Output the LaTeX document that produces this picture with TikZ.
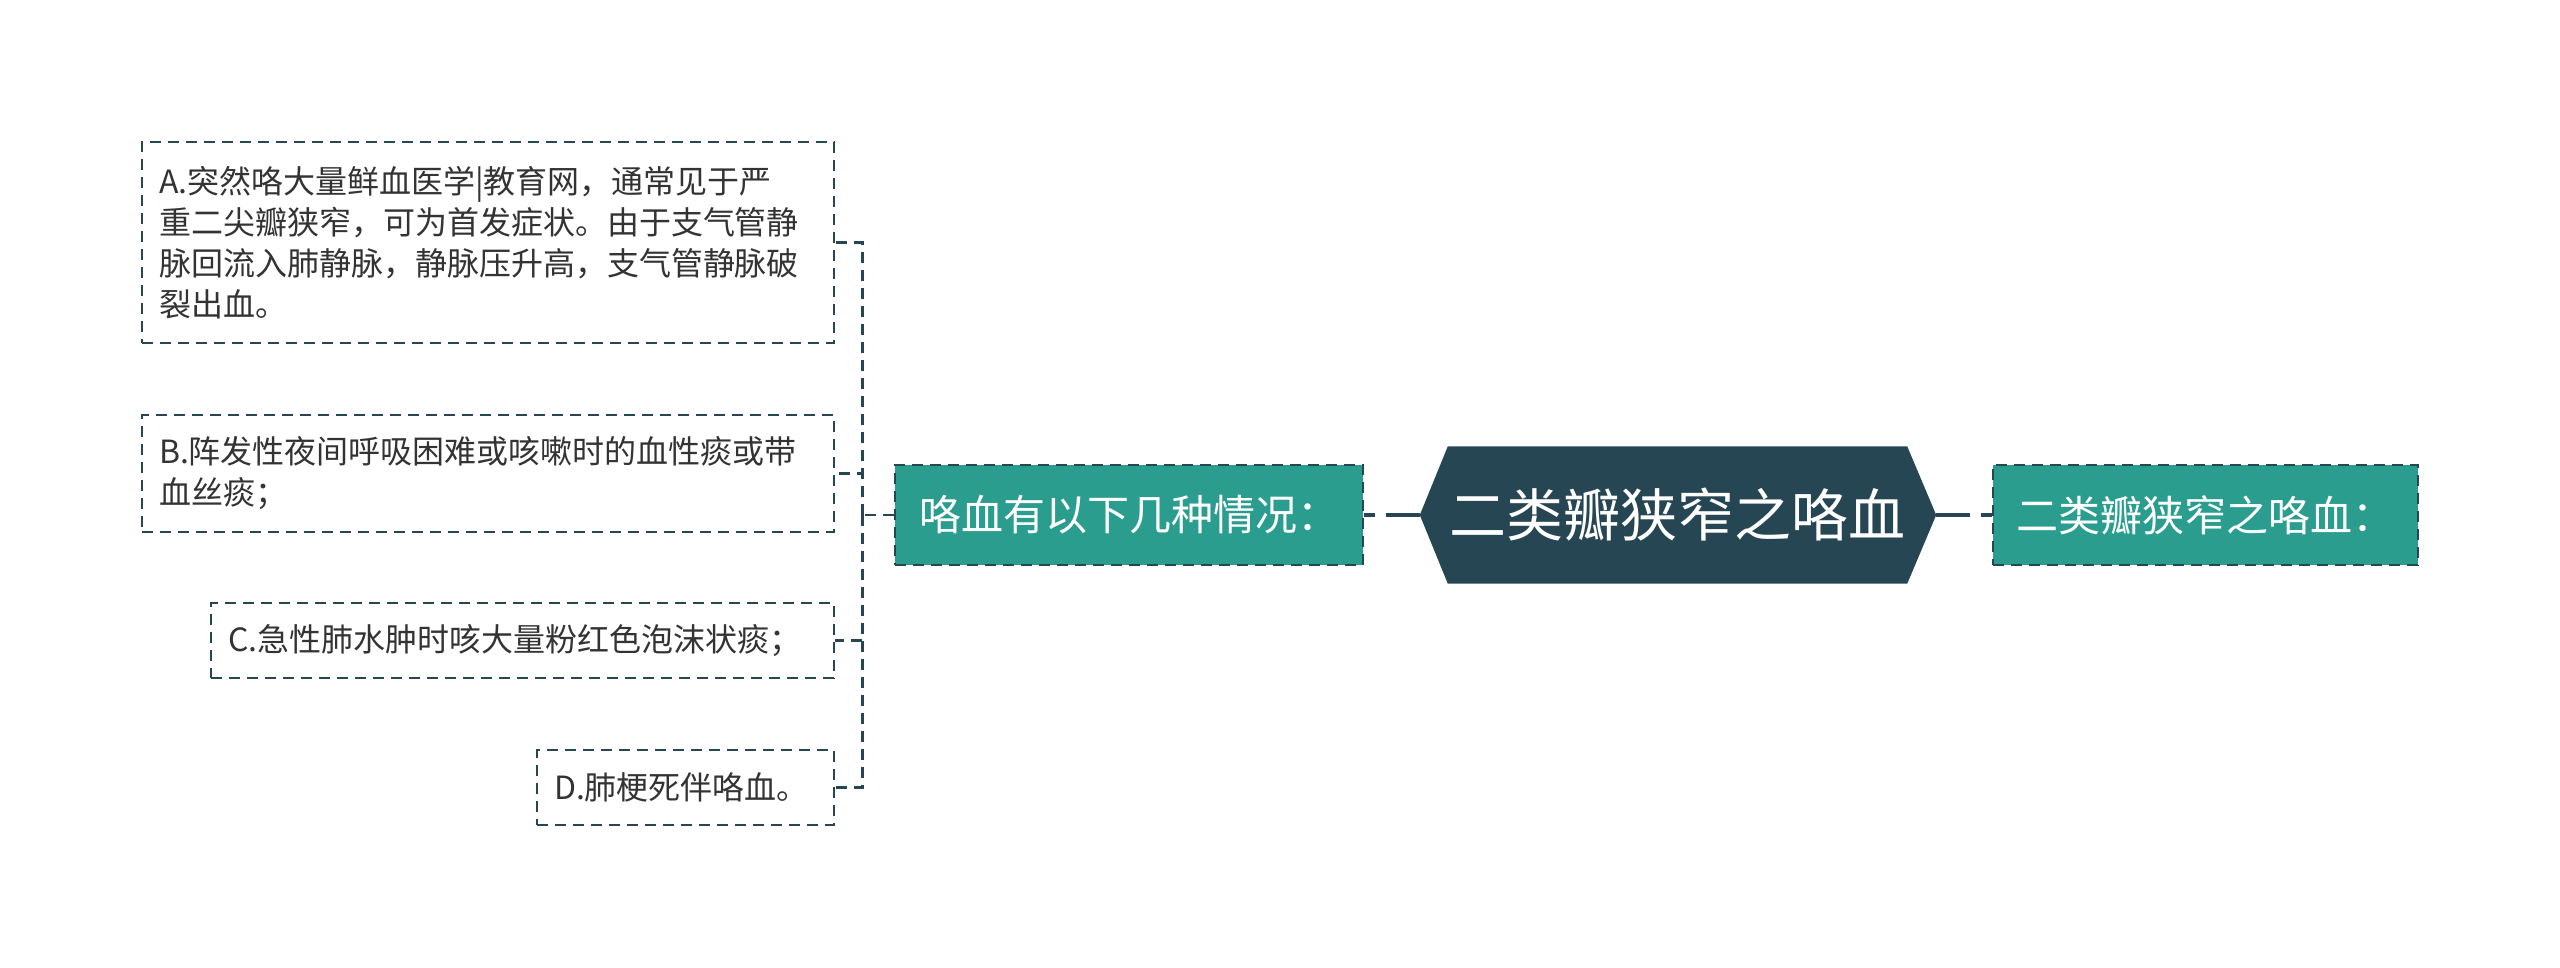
\documentclass[tikz,border=0pt]{standalone}
\usepackage{fontspec}
\setmainfont{Noto Sans CJK SC}
\usetikzlibrary{backgrounds}
\definecolor{dark}{HTML}{264653}
\definecolor{tealc}{HTML}{2A9D8F}
\definecolor{txt}{HTML}{333333}
\tikzset{
  leafbox/.style={draw=dark, line width=2.8pt, dash pattern=on 11pt off 7pt,
    fill=white, align=left, inner xsep=17pt, inner ysep=0pt, text=txt,
    font=\fontsize{32}{41}\selectfont},
  catbox/.style={draw=dark, line width=2.8pt, dash pattern=on 11pt off 7pt,
    fill=tealc, text=white, inner sep=0pt, font=\fontsize{42}{50}\selectfont},
  hexnode/.style={inner sep=0pt, text=white, minimum width=459pt, minimum height=137pt,
    font=\fontsize{57}{65}\selectfont},
  childconn/.style={draw=dark, line width=2.8pt, dash pattern=on 11pt off 7pt},
  mainconn/.style={draw=dark, line width=4pt, dash pattern=on 34pt off 11pt}
}
\begin{document}
\begin{tikzpicture}[x=1pt,y=-1pt]
\useasboundingbox (0,0) rectangle (2560,967);

% central topic
\node[hexnode] (center) at (1677.5,515) {二类瓣狭窄之咯血};
\coordinate (hexL) at ([xshift=-28pt]center.west);
\coordinate (hexR) at ([xshift=29pt]center.east);
\begin{pgfonlayer}{background}
\fill[dark] (center.north west) -- (center.north east) -- (hexR) -- (center.south east)
  -- (center.south west) -- (hexL) -- cycle;
\end{pgfonlayer}

% main branches
\node[catbox, minimum width=468pt, minimum height=100pt] (lbox) at (1129,515) {咯血有以下几种情况：};
\node[catbox, minimum width=425pt, minimum height=100pt] (rbox) at (2205.5,515) {二类瓣狭窄之咯血：};

% leaves
\node[leafbox, text width=658pt, minimum height=201pt] (A) at (488,242.5)
  {A.突然咯大量鲜血医学|教育网，通常见于严\\重二尖瓣狭窄，可为首发症状。由于支气管静\\脉回流入肺静脉，静脉压升高，支气管静脉破\\裂出血。};
\node[leafbox, text width=658pt, minimum height=117pt] (B) at (488,473.5)
  {B.阵发性夜间呼吸困难或咳嗽时的血性痰或带\\血丝痰；};
\node[leafbox, text width=589pt, minimum height=75pt] (C) at (522.5,640.5)
  {C.急性肺水肿时咳大量粉红色泡沫状痰；};
\node[leafbox, text width=263pt, minimum height=75pt] (D) at (685.5,787.5)
  {D.肺梗死伴咯血。};

% connectors
\draw[mainconn] (hexL) -- (lbox.east);
\draw[mainconn] (hexR) -- (rbox.west);
\coordinate (trunk) at ([xshift=-31pt]lbox.west);
\draw[childconn] (lbox.west) -- (trunk);
\draw[childconn] (trunk) |- (A.east);
\draw[childconn] (trunk) |- (B.east);
\draw[childconn] (trunk) |- (C.east);
\draw[childconn] (trunk) |- (D.east);
\end{tikzpicture}
\end{document}
